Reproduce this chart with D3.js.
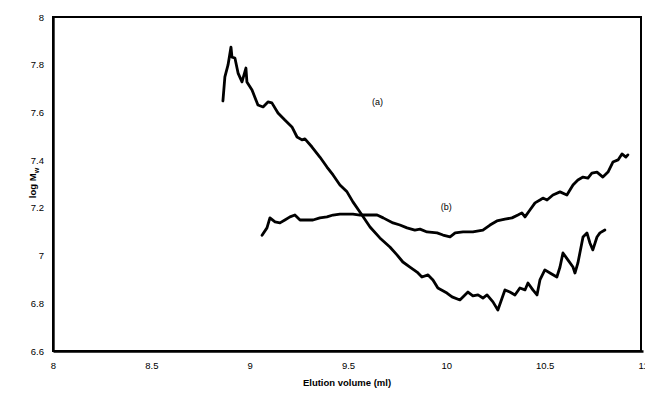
<!DOCTYPE html>
<html><head><meta charset="utf-8">
<script src="https://cdn.jsdelivr.net/npm/d3@7"></script>
<style>
html,body{margin:0;padding:0;background:#fff;}
svg text{font-family:"Liberation Sans",Arial,sans-serif;}
</style></head>
<body><svg id="c" width="645" height="403"></svg>
<script>
const xTicks = [8, 8.5, 9, 9.5, 10, 10.5, 11];
const yTicks = [6.6, 6.8, 7, 7.2, 7.4, 7.6, 7.8, 8];
const xTickLabels = ["8", "8.5", "9", "9.5", "10", "10.5", "11"];
const yTickLabels = ["6.6", "6.8", "7", "7.2", "7.4", "7.6", "7.8", "8"];

const seriesA_x = [8.864,8.874,8.890,8.905,8.910,8.925,8.941,8.961,8.981,8.986,9.012,9.042,9.068,9.093,9.113,9.144,9.179,9.215,9.241,9.266,9.281,9.317,9.357,9.393,9.424,9.459,9.495,9.525,9.571,9.612,9.662,9.713,9.749,9.779,9.815,9.851,9.876,9.907,9.932,9.957,10.003,10.029,10.069,10.110,10.135,10.161,10.186,10.207,10.237,10.262,10.298,10.323,10.349,10.374,10.400,10.415,10.440,10.461,10.476,10.501,10.527,10.562,10.578,10.593,10.618,10.644,10.654,10.669,10.695,10.715,10.730,10.745,10.766,10.781,10.806];
const seriesA_y = [7.648,7.749,7.799,7.874,7.832,7.828,7.765,7.728,7.786,7.728,7.694,7.631,7.623,7.644,7.640,7.598,7.568,7.539,7.497,7.485,7.489,7.455,7.413,7.371,7.338,7.296,7.267,7.225,7.170,7.120,7.074,7.036,7.003,6.973,6.952,6.931,6.910,6.919,6.898,6.864,6.843,6.827,6.814,6.847,6.831,6.835,6.822,6.835,6.806,6.772,6.856,6.847,6.835,6.864,6.856,6.885,6.856,6.835,6.898,6.940,6.927,6.910,6.952,7.011,6.982,6.952,6.927,6.969,7.078,7.095,7.053,7.024,7.078,7.095,7.107];

const seriesB_x = [9.063,9.088,9.103,9.129,9.154,9.179,9.205,9.230,9.256,9.291,9.322,9.357,9.393,9.424,9.459,9.495,9.525,9.561,9.597,9.648,9.679,9.729,9.764,9.800,9.840,9.866,9.902,9.953,9.983,10.019,10.045,10.085,10.135,10.186,10.222,10.257,10.298,10.334,10.364,10.384,10.400,10.425,10.451,10.476,10.491,10.512,10.542,10.578,10.613,10.644,10.669,10.695,10.720,10.740,10.766,10.796,10.822,10.847,10.873,10.893,10.913,10.923];
const seriesB_y = [7.085,7.116,7.158,7.141,7.137,7.149,7.162,7.170,7.149,7.149,7.149,7.158,7.162,7.170,7.174,7.174,7.174,7.170,7.170,7.170,7.158,7.137,7.128,7.116,7.107,7.111,7.099,7.095,7.086,7.078,7.095,7.099,7.099,7.107,7.128,7.145,7.153,7.158,7.170,7.179,7.162,7.191,7.221,7.233,7.241,7.233,7.254,7.267,7.254,7.296,7.317,7.329,7.325,7.346,7.350,7.329,7.350,7.392,7.401,7.426,7.413,7.422];

const seriesLabels = ["(a)", "(b)"];
const labelPos = [[9.65, 7.63], [10.0, 7.19]];

const mLeft = 53, mRight = 643, mTop = 17, mBottom = 351;
const svg = d3.select("#c");
const x = d3.scaleLinear().domain([8, 11]).range([mLeft, mRight]);
const y = d3.scaleLinear().domain([6.6, 8]).range([mBottom, mTop]);
const frameRight = Math.round(x(11) - 2);

// plot frame: black filled rect with white inner rect
svg.append("rect").attr("x", mLeft - 1).attr("y", mTop - 1)
  .attr("width", frameRight - mLeft + 2).attr("height", mBottom - mTop + 2).attr("fill", "#000");
svg.append("rect").attr("x", mLeft + 1).attr("y", mTop + 1)
  .attr("width", frameRight - mLeft - 2).attr("height", mBottom - mTop - 2).attr("fill", "#fff");

const xa = svg.append("g").attr("transform", `translate(0,${mBottom})`)
  .call(d3.axisBottom(x).tickValues(xTicks).tickFormat((d, i) => xTickLabels[i]).tickSize(0).tickPadding(11));
const ya = svg.append("g").attr("transform", `translate(${mLeft},0)`)
  .call(d3.axisLeft(y).tickValues(yTicks).tickFormat((d, i) => yTickLabels[i]).tickSize(0).tickPadding(9));
[xa, ya].forEach(g => {
  g.select(".domain").attr("stroke", "#000").attr("stroke-width", 2.4);
  g.selectAll("text").attr("font-size", 9.5).attr("fill", "#000");
});

const line = d3.line().x(d => x(d[0])).y(d => y(d[1]));
const dataA = seriesA_x.map((v, i) => [v, seriesA_y[i]]);
const dataB = seriesB_x.map((v, i) => [v, seriesB_y[i]]);
[dataA, dataB].forEach(d => {
  svg.append("path").datum(d).attr("d", line).attr("fill", "none").attr("stroke", "#000")
    .attr("stroke-width", 2.8).attr("stroke-linejoin", "round").attr("stroke-linecap", "round");
});

seriesLabels.forEach((t, i) => {
  svg.append("text").attr("x", x(labelPos[i][0])).attr("y", y(labelPos[i][1]))
    .attr("text-anchor", "middle").attr("font-size", 9).text(t);
});

svg.append("text").attr("x", 347).attr("y", 386).attr("text-anchor", "middle")
  .attr("font-size", 9.5).attr("font-weight", "bold").text("Elution volume (ml)");

const yl = svg.append("text").attr("transform", "translate(36,183) rotate(-90)")
  .attr("text-anchor", "middle").attr("font-size", 9.5).attr("font-weight", "bold");
yl.append("tspan").text("log M");
yl.append("tspan").attr("font-size", 7).attr("dy", 2.5).text("w");
</script></body></html>
